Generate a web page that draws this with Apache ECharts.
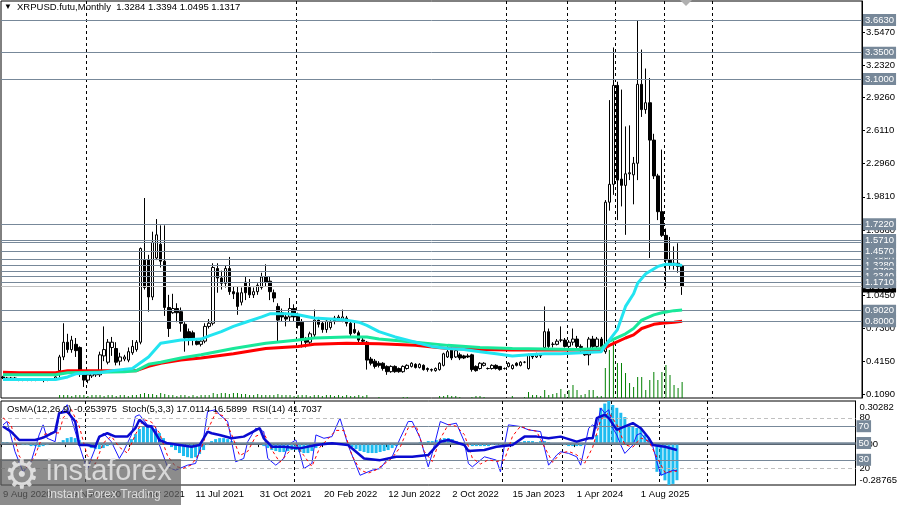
<!DOCTYPE html>
<html>
<head>
<meta charset="utf-8">
<script src="https://cdn.jsdelivr.net/npm/echarts@6/dist/echarts.min.js"></script>
<style>
html, body { margin: 0; padding: 0; background: #fff; }
#chart { width: 900px; height: 505px; }
</style>
</head>
<body>
<div id="chart"></div>
<script>
var FONT = 'Liberation Sans, Arial, sans-serif';
var N_SLOTS = 213;

// weekly bars from 9 Aug 2020, monthly from Jan 2023 -- [open, close, low, high]
var ohlc = [
  [0.27,0.26,0.25,0.28],[0.26,0.25,0.24,0.27],[0.25,0.26,0.24,0.27],[0.26,0.25,0.24,0.27],
  [0.25,0.24,0.23,0.26],[0.24,0.25,0.23,0.26],[0.25,0.24,0.23,0.26],[0.24,0.24,0.23,0.25],
  [0.24,0.25,0.23,0.26],[0.25,0.25,0.24,0.26],[0.25,0.24,0.22,0.26],[0.24,0.25,0.23,0.26],
  [0.25,0.25,0.24,0.26],[0.25,0.27,0.24,0.28],[0.33,0.46,0.27,0.48],[0.46,0.60,0.43,0.78],
  [0.60,0.53,0.50,0.68],[0.53,0.62,0.50,0.66],[0.58,0.52,0.46,0.64],[0.55,0.31,0.27,0.56],
  [0.29,0.24,0.175,0.31],[0.24,0.29,0.21,0.33],[0.28,0.30,0.26,0.32],[0.29,0.31,0.27,0.33],
  [0.29,0.48,0.27,0.51],[0.47,0.53,0.42,0.75],[0.41,0.60,0.39,0.63],[0.55,0.60,0.47,0.65],
  [0.54,0.41,0.38,0.60],[0.42,0.46,0.38,0.50],[0.44,0.46,0.42,0.48],[0.43,0.51,0.41,0.55],
  [0.50,0.56,0.48,0.62],[0.53,0.60,0.51,0.62],[0.60,1.49,0.58,1.50],[1.38,1.12,1.10,1.97],
  [1.38,1.03,0.89,1.43],[1.03,1.55,1.00,1.65],[1.40,1.62,1.38,1.77],[1.53,1.37,1.31,1.71],
  [1.37,0.93,0.85,1.71],[0.93,0.73,0.65,1.05],[0.88,0.92,0.87,1.06],[0.92,0.88,0.79,0.97],
  [0.89,0.78,0.70,0.93],[0.77,0.64,0.51,0.79],[0.70,0.64,0.57,0.73],[0.69,0.64,0.57,0.71],
  [0.61,0.58,0.57,0.63],[0.58,0.61,0.56,0.62],[0.61,0.75,0.59,0.78],[0.75,0.78,0.73,0.82],
  [0.78,1.31,0.76,1.35],[1.30,1.21,1.07,1.35],[1.21,1.16,1.10,1.28],[1.16,1.30,1.12,1.33],
  [1.30,1.08,1.05,1.41],[1.08,1.06,1.01,1.13],[1.07,0.94,0.86,1.13],[0.98,1.07,0.95,1.12],
  [1.17,1.07,1.00,1.22],[1.12,1.05,1.02,1.20],[1.05,1.08,1.02,1.12],[1.08,1.14,1.05,1.16],
  [1.12,1.22,1.10,1.26],[1.22,1.17,1.13,1.34],[1.18,1.08,1.00,1.22],[1.07,1.02,0.98,1.10],
  [0.94,0.81,0.61,0.97],[0.88,0.84,0.80,0.92],[0.84,0.82,0.75,0.88],[0.84,0.92,0.80,1.02],
  [0.92,0.84,0.80,0.96],[0.85,0.76,0.73,0.88],[0.79,0.62,0.55,0.82],[0.62,0.60,0.55,0.65],
  [0.60,0.68,0.58,0.70],[0.67,0.81,0.65,0.91],[0.81,0.77,0.74,0.84],[0.78,0.72,0.69,0.80],
  [0.72,0.80,0.69,0.82],[0.74,0.79,0.72,0.82],[0.83,0.80,0.77,0.85],[0.83,0.84,0.80,0.86],
  [0.81,0.84,0.79,0.91],[0.83,0.78,0.75,0.85],[0.78,0.68,0.66,0.80],[0.72,0.69,0.68,0.80],
  [0.69,0.62,0.59,0.71],[0.62,0.61,0.59,0.64],[0.60,0.43,0.34,0.61],[0.44,0.40,0.38,0.46],
  [0.42,0.37,0.35,0.44],[0.40,0.38,0.36,0.42],[0.40,0.35,0.33,0.41],[0.37,0.32,0.29,0.38],
  [0.32,0.37,0.31,0.38],[0.37,0.32,0.31,0.38],[0.35,0.32,0.31,0.36],[0.32,0.37,0.31,0.38],
  [0.35,0.38,0.34,0.39],[0.37,0.40,0.36,0.41],[0.39,0.36,0.35,0.40],[0.36,0.39,0.35,0.40],
  [0.38,0.34,0.33,0.39],[0.35,0.34,0.32,0.36],[0.34,0.335,0.32,0.35],[0.33,0.35,0.32,0.36],
  [0.34,0.40,0.33,0.41],[0.38,0.49,0.37,0.50],[0.46,0.51,0.45,0.56],[0.53,0.45,0.43,0.55],
  [0.46,0.52,0.45,0.54],[0.48,0.45,0.43,0.50],[0.47,0.45,0.44,0.48],[0.47,0.46,0.45,0.49],
  [0.48,0.34,0.32,0.49],[0.37,0.33,0.32,0.38],[0.35,0.40,0.34,0.41],[0.38,0.40,0.37,0.41],
  [0.35,0.35,0.34,0.36],[0.35,0.38,0.34,0.39],[0.38,0.35,0.34,0.39],[0.37,0.34,0.33,0.37],
  [0.35,0.35,0.34,0.36],[0.37,0.40,0.36,0.41],[0.35,0.38,0.34,0.39],[0.40,0.38,0.37,0.41],
  [0.38,0.41,0.37,0.42],[0.41,0.41,0.40,0.42],[0.35,0.48,0.34,0.49],[0.47,0.46,0.44,0.48],
  [0.46,0.49,0.45,0.50],[0.48,0.47,0.45,0.49],[0.55,0.70,0.53,0.94],[0.70,0.56,0.54,0.73],
  [0.58,0.58,0.55,0.60],[0.58,0.61,0.57,0.63],[0.62,0.62,0.60,0.75],[0.62,0.56,0.55,0.64],
  [0.56,0.60,0.53,0.62],[0.60,0.63,0.57,0.73],[0.63,0.56,0.53,0.66],[0.56,0.55,0.49,0.58],
  [0.50,0.48,0.47,0.52],[0.48,0.63,0.38,0.65],[0.63,0.56,0.54,0.66],[0.56,0.63,0.54,0.65],
  [0.63,0.56,0.52,0.65],[0.51,1.93,0.49,1.95],[1.93,2.10,1.85,2.90],[2.10,3.04,2.00,3.40],
  [3.04,2.14,1.76,3.075],[2.15,2.09,1.89,3.00],[2.09,2.20,1.62,2.65],[2.20,2.21,2.14,2.66],
  [2.19,2.30,1.91,2.36],[2.30,3.05,2.14,3.66],[3.05,2.81,2.74,3.38],[2.81,2.875,2.77,3.20],
  [2.875,2.52,1.40,3.11],[2.52,2.18,2.15,2.58],[2.18,1.84,1.76,2.20],[1.84,1.615,1.60,2.43],
  [1.615,1.38,1.11,1.68],[1.38,1.35,1.29,1.60],[1.35,1.345,1.29,1.51],[1.35,1.32,1.26,1.54],
  [1.3284,1.1317,1.0495,1.3394]
];

var volume = [
  0,0,0,0,0,0,0,0,0,0,0,0,0,0,
  3,3,3,2,3,3,3,2,3,3,3,2,3,3,2,3,3,2,3,3,
  4,5,4,4,3,5,4,
  3,3,2,3,3,2,3,2,3,3,3,
  5,4,5,5,4,5,5,4,4,
  3,3,4,3,3,3,3,4,3,3,3,2,3,
  3,3,2,3,3,2,3,3,2,3,2,3,2,2,3,2,3,
  0,0,1,0,0,0,0,0,1,1,0,0,0,0,0,0,0,
  2,2,3,2,2,1,
  0,0,1,2,2,1,0,0,0,0,0,0,
  2,0,0,1,6,3,3,2,8,3,4,5,9,4,8,13,8,3,4,8,8,2,2,
  30,48,57,35,35,25,15,11,21,21,8,18,26,18,26,33,23,13,10,16
];

// moving averages: [bar index, price]
var maCyan = [[0,0.245],[13,0.245],[16,0.27],[18,0.30],[24,0.31],[27,0.33],[32,0.35],[36,0.46],
  [39,0.59],[44,0.62],[49,0.63],[51,0.66],[54,0.70],[57,0.75],[60,0.79],[64,0.84],[66,0.87],
  [70,0.87],[73,0.86],[77,0.83],[81,0.82],[85,0.81],[88,0.79],[90,0.76],[93,0.70],[97,0.65],
  [102,0.60],[106,0.56],[110,0.54],[114,0.53],[118,0.51],[122,0.49],[126,0.47],[130,0.48],
  [134,0.49],[138,0.49],[143,0.50],[148,0.51],[150,0.62],[152,0.72],[154,0.94],[156,1.06],
  [157,1.16],[159,1.25],[162,1.32],[164,1.34],[166,1.34],[168,1.33]];
var maGreen = [[0,0.29],[13,0.29],[16,0.31],[30,0.32],[33,0.33],[36,0.39],[39,0.41],[44,0.45],
  [49,0.48],[57,0.54],[65,0.59],[73,0.62],[77,0.64],[85,0.65],[90,0.65],[93,0.63],[102,0.60],
  [110,0.57],[118,0.55],[126,0.54],[134,0.535],[142,0.53],[148,0.54],[150,0.61],[154,0.68],
  [156,0.73],[158,0.81],[161,0.86],[163,0.88],[166,0.90],[168,0.905]];
var maRed = [[0,0.315],[4,0.31],[13,0.31],[16,0.33],[33,0.33],[36,0.37],[39,0.40],[44,0.43],
  [49,0.45],[57,0.49],[65,0.54],[73,0.56],[77,0.58],[85,0.59],[93,0.585],[102,0.57],[110,0.54],
  [118,0.53],[126,0.526],[134,0.525],[142,0.525],[148,0.525],[150,0.57],[154,0.64],[156,0.67],
  [158,0.73],[161,0.77],[163,0.78],[166,0.79],[168,0.80]];

var osma = [
  0.014,0.014,0.007,0.007, 0,-0.007,-0.007,-0.014,
  -0.014,-0.021,-0.014,-0.007,0,0.007,
  0.014,0.028,0.042,0.049,0.042,0.028,
  0.007,-0.014,-0.028,-0.035,-0.035,
  -0.028,-0.014,-0.007,0,0,0.007,0.014,
  0.035,0.07,0.106,0.127,0.134,0.127,0.106,0.077,
  0.042,0.007,
  -0.021,-0.042,-0.063,-0.084,-0.092,-0.099,-0.092,-0.07,-0.042,
  -0.007,0.021,0.035,0.042,0.042,0.035,0.021,
  0.014,0.007,0.007,0.014,0.014,0.007,0,
  -0.014,-0.028,-0.042,-0.049,-0.056,-0.056,-0.049,-0.042,-0.042,
  -0.056,-0.063,-0.063,-0.049,-0.028,
  0.007,0.014,0.014,0.014,0.007,0.007,0,-0.007,
  -0.021,-0.035,-0.049,-0.056,-0.063,-0.063,-0.063,-0.056,-0.049,-0.042,-0.028,-0.014,
  -0.007,0,0,
  0.007,0.007,0.014,0.014,0.021,0.021,0.028,0.035,0.042,0.042,0.035,0.021,0.007,0,
  -0.007,-0.014,-0.014,-0.014,-0.014,-0.014,-0.007,-0.007,-0.007,0,
  0.007,0.014,0.014,0.014,0.021,0.021,0.021,0.014,0.021,0.021,0.014,0.007,0.007,0,
  -0.007,-0.014,-0.014,-0.014,-0.014,-0.007,0,0.007,0.063,
  0.255,0.285,0.30282,0.275,0.255,0.22,0.19,0.135,0.12,0.113,0.11,0.065,0.04,0.003,
  -0.195,-0.22,-0.255,-0.28765,-0.28,-0.253975
];

var stochMain = [[0,71.6],[1,75.6],[3,39.6],[5,15.6],[7,27.6],[9,59.6],[10,71.6],[11,55.6],
  [13,51.6],[14,83.6],[16,95.6],[17,79.6],[19,47.6],[21,17.6],[22,31.6],[24,55.6],[25,61.6],
  [27,51.6],[29,31.6],[30,39.6],[32,59.6],[33,81.6],[34,83.6],[36,71.6],[38,69.6],[39,47.6],
  [41,21.6],[43,17.6],[46,23.6],[48,25.6],[50,55.6],[51,87.6],[53,89.6],[54,83.6],[56,75.6],
  [58,27.6],[60,31.6],[61,51.6],[63,67.6],[65,63.6],[66,31.6],[68,23.6],[70,31.6],[71,47.6],
  [73,53.6],[74,37.6],[75,19.6],[77,25.6],[78,59.6],[80,55.6],[82,57.6],[84,79.6],[86,47.6],
  [88,23.6],[89,11.6],[92,17.6],[94,19.6],[96,31.6],[97,33.6],[99,55.6],[101,75.6],[102,75.6],
  [104,55.6],[106,21.6],[107,37.6],[109,75.6],[111,71.6],[113,73.6],[115,51.6],[116,25.6],
  [117,21.6],[120,33.6],[123,29.6],[124,15.6],[125,47.6],[126,71.6],[129,69.6],[131,65.6],
  [134,63.6],[136,23.6],[138,35.6],[139,39.6],[141,37.6],[143,33.6],[144,23.6],[146,67.6],
  [147,71.6],[148,67.6],[149,91.6],[150,85.6],[151,89.6],[152,67.6],[153,59.6],[154,47.6],
  [155,37.6],[157,47.6],[158,59.6],[159,61.6],[160,55.6],[162,45.6],[163,27.6],[164,11.6],
  [166,15.6],[167,17.6],[168,17.0114]];
var stochSignal = [[0,80],[2,72],[4,35],[6,20],[8,35],[10,60],[12,62],[14,62],[15,80],[17,90],
  [19,70],[21,35],[23,25],[25,50],[27,58],[29,45],[31,38],[33,60],[35,78],[37,75],[39,62],
  [41,35],[43,22],[45,20],[47,24],[49,38],[51,65],[53,86],[55,82],[57,60],[59,35],[61,40],
  [63,58],[65,62],[67,42],[69,27],[71,38],[73,48],[75,35],[77,22],[79,45],[81,55],[83,65],
  [85,65],[87,35],[89,18],[91,14],[93,18],[95,25],[97,32],[99,45],[101,68],[103,70],[105,40],
  [107,28],[109,55],[111,72],[113,70],[115,60],[117,32],[119,25],[121,30],[123,28],[125,30],
  [127,58],[129,70],[131,66],[133,64],[135,45],[137,27],[139,38],[141,40],[143,36],[145,26],
  [147,45],[149,78],[151,86],[153,72],[155,48],[157,45],[159,56],[161,52],[163,33],[165,15],
  [167,16],[168,16.5899]];
var rsi = [[0,69.6],[2,63.6],[4,53.6],[8,53.6],[10,56.4],[13,63.6],[14,85.6],[16,87.6],
  [18,75.6],[19,47.6],[21,47.6],[23,45.6],[24,57.6],[26,61.6],[28,57.6],[31,57.6],[33,67.6],
  [34,77.6],[36,69.6],[37,69.6],[39,53.6],[41,49.6],[44,47.6],[47,45.6],[49,47.6],[51,63.6],
  [52,61.6],[54,59.6],[57,55.6],[60,57.6],[64,67.6],[65,55.6],[67,45.6],[70,45.6],[74,43.6],
  [78,47.6],[82,49.6],[86,47.6],[90,31.6],[94,29.6],[98,33.6],[102,33.6],[106,35.6],[109,51.6],
  [111,53.6],[115,47.6],[116,40.4],[120,41.6],[123,45.6],[127,47.6],[130,57.6],[133,57.6],
  [136,55.6],[139,57.6],[143,51.6],[146,55.6],[147,55.6],[148,79.6],[150,83.6],[151,79.6],
  [153,65.6],[154,67.6],[157,73.6],[159,67.6],[161,55.6],[162,47.6],[165,45.6],[168,41.7037]];

var priceTicks = [3.547,3.232,2.926,2.611,2.296,1.981,1.666,1.351,1.045,0.730,0.415,0.109];
// drawn in this order: later badges sit on top
var levels = [3.663,3.350,3.100,1.722,1.555,1.571,1.388,1.457,1.328,1.270,1.234,1.171,0.902,0.800];
var lastPrice = 1.1317;
var osmaMax = 0.30282, osmaMin = -0.28765;

var tickIdx = [0,16,32,48,64,80,96,112,127,143,159];
var tickTxt = ['9 Aug 2020','29 Nov 2020','21 Mar 2021','11 Jul 2021','31 Oct 2021','20 Feb 2022',
  '12 Jun 2022','2 Oct 2022','15 Jan 2023','1 Apr 2024','1 Aug 2025'];
var sepIdx = [21,73,125,140,152,164,176];

var cats = [];
for (var i = 0; i < N_SLOTS; i++) cats.push(String(i));

function isTick(idx) { return tickIdx.indexOf(idx) >= 0; }
function isSep(idx) { return sepIdx.indexOf(idx) >= 0; }

// the terminal prints the scale extremes just inside the panel
var osmaSpan = osmaMax - osmaMin;
var osmaLabelAt = [osmaMax - osmaSpan * 0.075, 0, osmaMin + osmaSpan * 0.06];

var sepLine = { show: true, interval: function (idx) { return isSep(idx); },
  lineStyle: { color: '#000', width: 1, type: [3, 3] } };

var badge = { show: true, position: 'end', distance: 1, color: '#fff', backgroundColor: '#778899',
  fontFamily: FONT, fontSize: 9.5, padding: [1, 2, 0, 2], lineHeight: 11 };

var levelData = [{
  yAxis: lastPrice,
  lineStyle: { color: '#c0c0c0', width: 1, type: 'solid' },
  label: Object.assign({}, badge, { backgroundColor: '#000', formatter: lastPrice.toFixed(4) })
}];
levels.forEach(function (v) {
  levelData.push({ yAxis: v, lineStyle: { color: '#778899', width: 1, type: 'solid' },
    label: Object.assign({}, badge, { formatter: v.toFixed(4) }) });
});

var oscLevels = [
  { yAxis: 80, lineStyle: { color: '#c0c0c0', type: [4, 3], width: 1 }, label: { show: false } },
  { yAxis: 70, lineStyle: { color: '#778899', type: 'solid', width: 1 }, label: Object.assign({}, badge, { formatter: '70' }) },
  { yAxis: 50, lineStyle: { color: '#778899', type: 'solid', width: 2.5 }, label: Object.assign({}, badge, { formatter: '50' }) },
  { yAxis: 30, lineStyle: { color: '#778899', type: 'solid', width: 1 }, label: Object.assign({}, badge, { formatter: '30' }) },
  { yAxis: 20, lineStyle: { color: '#c0c0c0', type: [4, 3], width: 1 }, label: { show: false } }
];

var chart = echarts.init(document.getElementById('chart'), null, { renderer: 'canvas' });

chart.setOption({
  animation: false,
  backgroundColor: '#fff',
  textStyle: { fontFamily: FONT },
  grid: [
    { left: 1, right: 38, top: 1, height: 397, show: true, borderColor: '#000', borderWidth: 1 },
    { left: 1, right: 38, top: 401, height: 84, show: true, borderColor: '#000', borderWidth: 1 }
  ],
  xAxis: [
    { gridIndex: 0, type: 'category', data: cats, boundaryGap: true,
      axisLine: { show: false }, axisTick: { show: false }, axisLabel: { show: false },
      splitLine: sepLine },
    { gridIndex: 1, type: 'category', data: cats, boundaryGap: true,
      axisLine: { show: true, lineStyle: { color: '#000' } },
      axisTick: { show: true, length: 3, interval: function (idx) { return isTick(idx); },
        lineStyle: { color: '#000' } },
      axisLabel: { show: true, interval: function (idx) { return isTick(idx); },
        formatter: function (v, idx) { var k = tickIdx.indexOf(idx); return k >= 0 ? tickTxt[k] : ''; },
        align: 'left', margin: 4, color: '#000', fontFamily: FONT, fontSize: 9.5 },
      splitLine: sepLine }
  ],
  yAxis: [
    { gridIndex: 0, type: 'value', position: 'right', min: 0.07, max: 3.8415, scale: true,
      axisLine: { show: true, lineStyle: { color: '#000' } },
      axisTick: { show: true, length: 3, customValues: priceTicks, lineStyle: { color: '#000' } },
      axisLabel: { show: true, customValues: priceTicks, margin: 4, color: '#000',
        fontFamily: FONT, fontSize: 9.5, formatter: function (v) { return v.toFixed(4); } },
      splitLine: { show: false } },
    { gridIndex: 0, type: 'value', min: 0, max: 397, show: false },
    { gridIndex: 1, type: 'value', position: 'right', min: osmaMin, max: osmaMax,
      axisLine: { show: true, lineStyle: { color: '#000' } },
      axisTick: { show: false },
      axisLabel: { show: true, customValues: osmaLabelAt, margin: 4, color: '#000',
        fontFamily: FONT, fontSize: 9.5,
        formatter: function (v) {
          if (v > 0.1) return osmaMax.toFixed(5);
          if (v < -0.1) return osmaMin.toFixed(5);
          return '0.00';
        } },
      splitLine: { show: false } },
    { gridIndex: 1, type: 'value', position: 'right', min: 0, max: 100,
      axisLine: { show: false }, axisTick: { show: false },
      axisLabel: { show: true, customValues: [80, 20], margin: 4, color: '#000',
        fontFamily: FONT, fontSize: 9.5 },
      splitLine: { show: false } }
  ],
  graphic: [
    { type: 'text', left: 4, top: 3, style: { text: '\u25BC', fill: '#000', font: '8px ' + FONT } },
    { type: 'text', left: 17, top: 2, style: { text: 'XRPUSD.futu,Monthly  1.3284 1.3394 1.0495 1.1317',
      fill: '#000', font: '9.5px ' + FONT } },
    { type: 'polygon', shape: { points: [[680, 0], [692, 0], [686, 6]] }, style: { fill: '#b0b0b0' } },
    { type: 'text', left: 7, top: 404, z: 20, style: {
      text: 'OsMA(12,26,9) -0.253975  Stoch(5,3,3) 17.0114 16.5899  RSI(14) 41.7037',
      fill: '#000', font: '9.5px ' + FONT } },
    { type: 'rect', z: 30, shape: { x: 0, y: 459, width: 181, height: 46 },
      style: { fill: 'rgba(95,95,95,0.72)' } },
    { type: 'text', z: 31, left: 4, top: 458, style: { text: '\u2699', fill: 'rgba(235,235,235,0.85)',
      font: '40px DejaVu Sans' } },
    { type: 'text', z: 31, left: 46, top: 457, style: { text: 'instaforex', fill: 'rgba(230,230,230,0.85)',
      font: '29px ' + FONT } },
    { type: 'text', z: 31, left: 47, top: 489, style: { text: 'Instant Forex Trading',
      fill: 'rgba(235,235,235,0.85)', font: '12px ' + FONT } }
  ],
  series: [
    { name: 'volume', type: 'bar', xAxisIndex: 0, yAxisIndex: 1, data: volume,
      barWidth: 1, itemStyle: { color: '#008000' }, z: 1 },
    { name: 'XRPUSD', type: 'candlestick', xAxisIndex: 0, yAxisIndex: 0, data: ohlc,
      barWidth: 3, z: 3,
      itemStyle: { color: '#fff', color0: '#000', borderColor: '#000', borderColor0: '#000', borderWidth: 1 },
      markLine: { silent: true, symbol: ['none', 'none'], animation: false, data: levelData } },
    { name: 'MA red', type: 'line', xAxisIndex: 0, yAxisIndex: 0, data: maRed, symbol: 'none',
      lineStyle: { color: '#ff0000', width: 3 }, z: 4 },
    { name: 'MA green', type: 'line', xAxisIndex: 0, yAxisIndex: 0, data: maGreen, symbol: 'none',
      lineStyle: { color: '#19e89a', width: 3 }, z: 5 },
    { name: 'MA cyan', type: 'line', xAxisIndex: 0, yAxisIndex: 0, data: maCyan, symbol: 'none',
      lineStyle: { color: '#22e4f0', width: 3 }, z: 6 },
    { name: 'OsMA', type: 'bar', xAxisIndex: 1, yAxisIndex: 2, data: osma, barWidth: 3,
      itemStyle: { color: '#1ebcf0' }, z: 2 },
    { name: 'Stoch', type: 'line', xAxisIndex: 1, yAxisIndex: 3, data: stochMain, symbol: 'none',
      lineStyle: { color: '#1a1aff', width: 1 }, z: 4,
      markLine: { silent: true, symbol: ['none', 'none'], animation: false, data: oscLevels } },
    { name: 'Signal', type: 'line', xAxisIndex: 1, yAxisIndex: 3, data: stochSignal, symbol: 'none',
      lineStyle: { color: '#ff0000', width: 1, type: [3, 3] }, z: 5 },
    { name: 'RSI', type: 'line', xAxisIndex: 1, yAxisIndex: 3, data: rsi, symbol: 'none',
      lineStyle: { color: '#0a0ad0', width: 2.5 }, z: 6 }
  ]
});
</script>
</body>
</html>
